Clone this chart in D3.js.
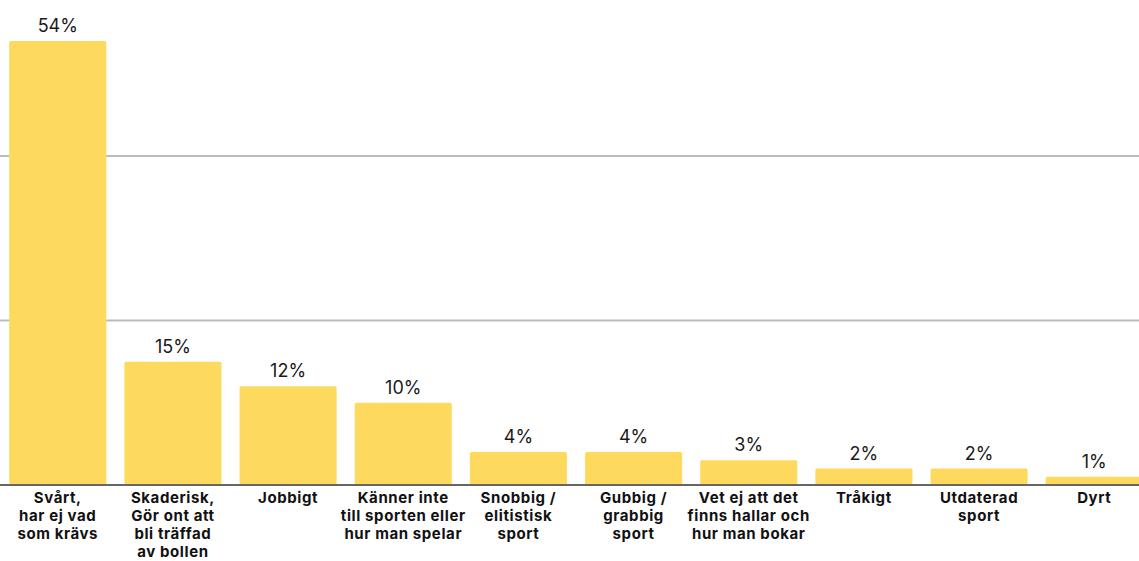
<!DOCTYPE html>
<html><head><meta charset="utf-8">
<script src="https://cdn.jsdelivr.net/npm/d3@7"></script>
<style>body{margin:0;background:#fff}svg{display:block}</style>
</head><body>
<svg id="c" width="1139" height="561"></svg>
<script>
const categories = [
  ["Svårt,","har ej vad","som krävs"],
  ["Skaderisk,","Gör ont att","bli träffad","av bollen"],
  ["Jobbigt"],
  ["Känner inte","till sporten eller","hur man spelar"],
  ["Snobbig /","elitistisk","sport"],
  ["Gubbig /","grabbig","sport"],
  ["Vet ej att det","finns hallar och","hur man bokar"],
  ["Tråkigt"],
  ["Utdaterad","sport"],
  ["Dyrt"]
];
const values = [54, 15, 12, 10, 4, 4, 3, 2, 2, 1];
const gridTicks = [20, 40];

const svg = d3.select("#c");
const W = 1139, base = 485;
const x = d3.scaleBand().domain(d3.range(values.length)).range([0, 1152]).paddingInner(0.157).paddingOuter(0.08);
const y = d3.scaleLinear().domain([0, 54]).range([base, 41]);

svg.append("g").selectAll("line").data(gridTicks).join("line")
  .attr("x1", 0).attr("x2", W).attr("y1", d => y(d)).attr("y2", d => y(d))
  .attr("stroke", "#bdbdbd").attr("stroke-width", 2);

svg.append("g").selectAll("rect").data(values).join("rect")
  .attr("x", (d,i) => x(i)).attr("width", x.bandwidth())
  .attr("y", d => y(d)).attr("height", d => base - y(d))
  .attr("rx", 1.5).attr("fill", "#FDDA5E");

svg.append("line").attr("x1", 0).attr("x2", W).attr("y1", base).attr("y2", base)
  .attr("stroke", "#666").attr("stroke-width", 2);

svg.append("g").selectAll("text").data(values).join("text")
  .attr("x", (d,i) => x(i) + x.bandwidth()/2).attr("y", d => y(d) - 9)
  .attr("text-anchor", "middle").attr("font-family", "Inter, sans-serif")
  .attr("font-size", 18).attr("fill", "#1a1a1a").text(d => d + "%");

const lab = svg.append("g").selectAll("text").data(categories).join("text")
  .attr("text-anchor", "middle").attr("font-family", "Inter, sans-serif")
  .attr("font-weight", "bold").attr("font-size", 15).attr("letter-spacing", 0.6).attr("fill", "#111");
lab.each(function(lines, i) {
  const t = d3.select(this);
  lines.forEach((l, j) => t.append("tspan").attr("x", x(i) + x.bandwidth()/2).attr("y", 503 + j*18).text(l));
});
</script>
</body></html>
